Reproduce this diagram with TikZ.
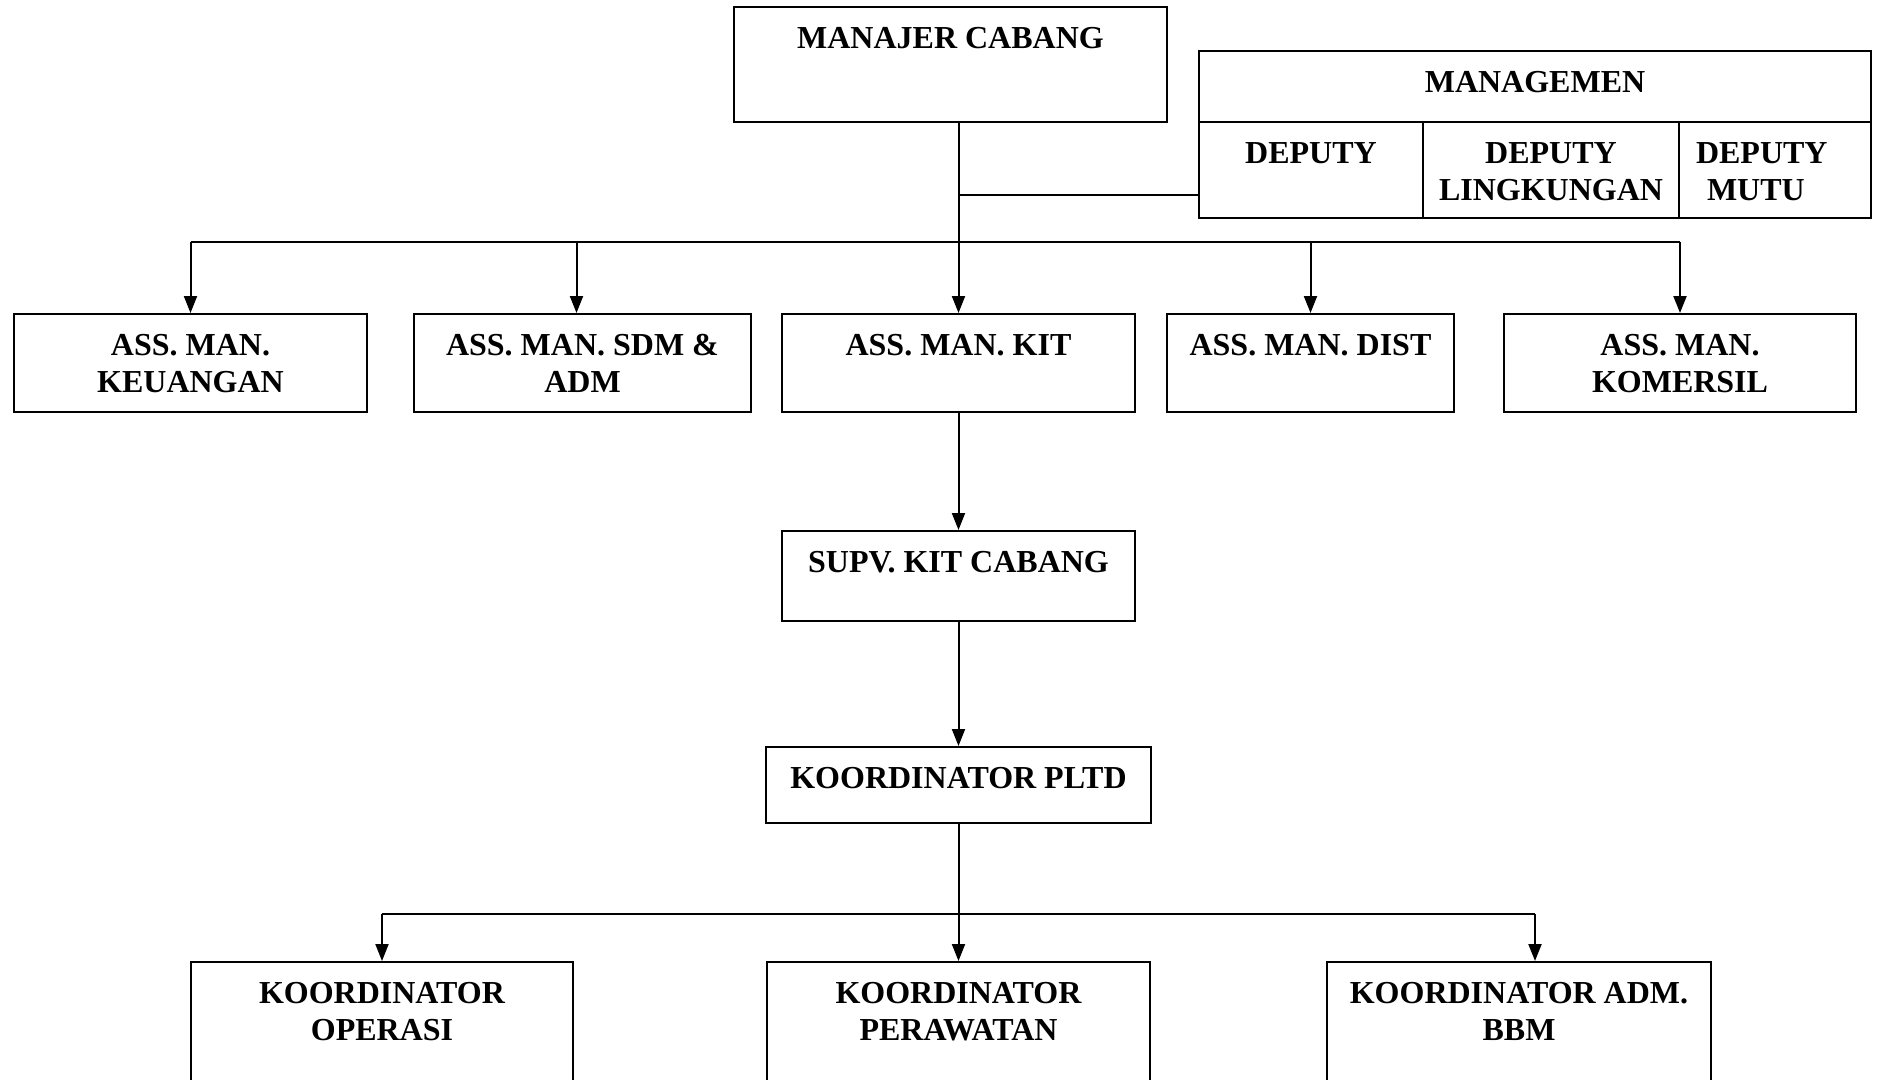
\documentclass[tikz,border=0pt]{standalone}
\usepackage{fontspec}
\setmainfont{Liberation Serif}
\usetikzlibrary{arrows.meta,calc}
\newcommand\orgbox[6]{\node[obox] (#1) at ({(#2+#4)/2},{(#3+#5)/2}) {\parbox[c][\dimexpr#5pt-#3pt\relax][t]{\dimexpr#4pt-#2pt\relax}{\centering\rule{0pt}{41pt}#6}};}
\begin{document}
\begin{tikzpicture}[x=1pt,y=-1pt,
  obox/.style={draw,line width=2pt,inner sep=0pt,font=\fontsize{32pt}{37pt}\selectfont\bfseries},
  conn/.style={line width=2pt},
  arr/.style={conn,-{Triangle[length=17pt,width=13pt]}}]
\useasboundingbox (0,0) rectangle (1879,1079);
\fill[white] (0,0) rectangle (1879,1079);
\clip (0,0) rectangle (1879,1079);
% top
\orgbox{mc}{734}{7}{1167}{122}{MANAJER CABANG}
\orgbox{mg}{1199}{51}{1871}{122}{MANAGEMEN}
\orgbox{d1}{1199}{122}{1423}{218}{DEPUTY}
\orgbox{d2}{1423}{122}{1679}{218}{DEPUTY\\LINGKUNGAN}
\orgbox{d3}{1679}{122}{1871}{218}{\raggedright\hspace*{17pt}DEPUTY\\\hspace*{28pt}MUTU}
% assistant managers
\orgbox{ak}{14}{314}{367}{412}{ASS. MAN.\\KEUANGAN}
\orgbox{as}{414}{314}{751}{412}{ASS. MAN. SDM \&\\ADM}
\orgbox{kit}{782}{314}{1135}{412}{ASS. MAN. KIT}
\orgbox{dist}{1167}{314}{1454}{412}{ASS. MAN. DIST}
\orgbox{kom}{1504}{314}{1856}{412}{ASS. MAN.\\KOMERSIL}
% chain
\orgbox{supv}{782}{531}{1135}{621}{SUPV. KIT CABANG}
\orgbox{pltd}{766}{747}{1151}{823}{KOORDINATOR PLTD}
% bottom
\orgbox{ko}{191}{962}{573}{1200}{KOORDINATOR\\OPERASI}
\orgbox{kp}{767}{962}{1150}{1200}{KOORDINATOR\\PERAWATAN}
\orgbox{kb}{1327}{962}{1711}{1200}{KOORDINATOR ADM.\\BBM}
% connectors
\coordinate (bus1) at (0,242);
\coordinate (bus2) at (0,914);
\draw[arr] (mc.south -| kit.north) -- (kit.north);
\draw[conn] ($(d1.south west)!0.25!(d1.north west)$) coordinate (mj) -- (mj -| kit.north);
\draw[conn] (bus1 -| ak.north) -- (bus1 -| kom.north);
\foreach \n in {ak,dist,kom} \draw[arr] (bus1 -| \n.north) -- (\n.north);
\draw[arr] ([xshift=-6pt]as.north |- bus1) -- ([xshift=-6pt]as.north);
\draw[arr] (kit.south) -- (kit.south |- supv.north);
\draw[arr] (supv.south -| kit.south) -- (kit.south |- pltd.north);
\draw[arr] (pltd.south -| kit.south) -- (kit.south |- kp.north);
\draw[conn] (bus2 -| ko.north) -- ([xshift=16pt]kb.north |- bus2);
\draw[arr] (bus2 -| ko.north) -- (ko.north);
\draw[arr] ([xshift=16pt]kb.north |- bus2) -- ([xshift=16pt]kb.north);
\end{tikzpicture}
\end{document}
